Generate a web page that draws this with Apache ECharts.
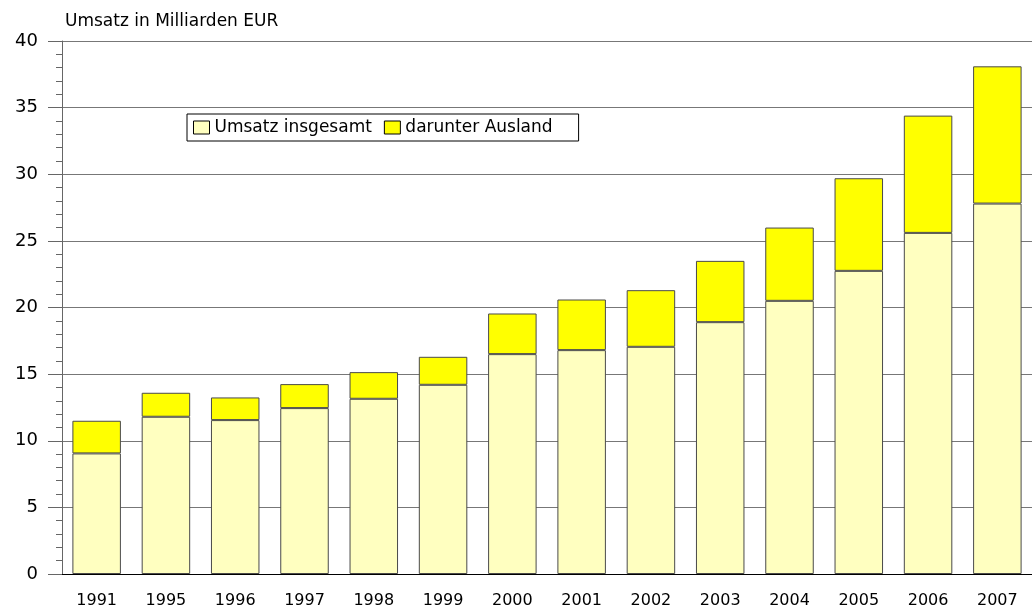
<!DOCTYPE html>
<html>
<head>
<meta charset="utf-8">
<script src="https://cdn.jsdelivr.net/npm/echarts@6/dist/echarts.min.js"></script>
<style>
  html, body { margin: 0; padding: 0; background: #fff; }
  #chart { width: 1032px; height: 612px; }
</style>
</head>
<body>
<div id="chart"></div>
<script>
// Jahre und Werte (Mrd. EUR)
const years = ['1991', '1995', '1996', '1997', '1998', '1999', '2000', '2001', '2002', '2003', '2004', '2005', '2006', '2007']
// unterer, hellgelber Teil
const umsatzInsgesamt = [9.05, 11.8, 11.55, 12.45, 13.15, 14.2, 16.5, 16.8, 17.05, 18.9, 20.5, 22.75, 25.6, 27.8]
// oberer, gelber Teil (Auslandsanteil)
const darunterAusland = [2.45, 1.8, 1.7, 1.8, 2.0, 2.1, 3.05, 3.8, 4.25, 4.6, 5.5, 6.95, 8.8, 10.3]
const yTicks = { min: 0, max: 40, interval: 5 }

const fontFamily = '"DejaVu Sans", sans-serif'
const chart = echarts.init(document.getElementById('chart'))

const barBorder = { borderColor: '#4a4a4a', borderWidth: 1 }

chart.setOption({
  animation: false,
  textStyle: { fontFamily },
  title: {
    text: 'Umsatz in Milliarden EUR',
    left: 60,
    top: 8,
    textStyle: { fontSize: 17, fontWeight: 'normal', color: '#000', fontFamily }
  },
  legend: {
    left: 187,
    top: 114,
    orient: 'horizontal',
    padding: [5, 26, 5, 6],
    itemGap: 12,
    itemWidth: 16,
    itemHeight: 13,
    borderColor: '#000',
    borderWidth: 1,
    icon: 'rect',
    itemStyle: { borderColor: '#000', borderWidth: 1 },
    textStyle: { fontSize: 17, color: '#000', fontFamily }
  },
  grid: { left: 62, right: -1, top: 41, bottom: 38, containLabel: false },
  xAxis: {
    type: 'category',
    data: years,
    axisLine: { lineStyle: { color: '#000', width: 1 } },
    axisTick: { show: false },
    axisLabel: { fontSize: 16, color: '#000', margin: 19, fontFamily }
  },
  yAxis: {
    type: 'value',
    min: yTicks.min,
    max: yTicks.max,
    interval: yTicks.interval,
    axisLine: { show: true, lineStyle: { color: '#666', width: 1 } },
    axisTick: { show: true, length: 14, lineStyle: { color: '#666' } },
    minorTick: { show: true, splitNumber: 5, length: 6, lineStyle: { color: '#666' } },
    splitLine: { show: true, lineStyle: { color: '#777', width: 1 } },
    axisLabel: { fontSize: 18, color: '#000', margin: 24, fontFamily }
  },
  series: [
    {
      name: 'Umsatz insgesamt',
      type: 'bar',
      stack: 'umsatz',
      data: umsatzInsgesamt,
      barCategoryGap: '30%',
      itemStyle: Object.assign({ color: '#FFFFC0' }, barBorder)
    },
    {
      name: 'darunter Ausland',
      type: 'bar',
      stack: 'umsatz',
      data: darunterAusland,
      barCategoryGap: '30%',
      itemStyle: Object.assign({ color: '#FFFF00' }, barBorder)
    }
  ]
})
</script>
</body>
</html>
